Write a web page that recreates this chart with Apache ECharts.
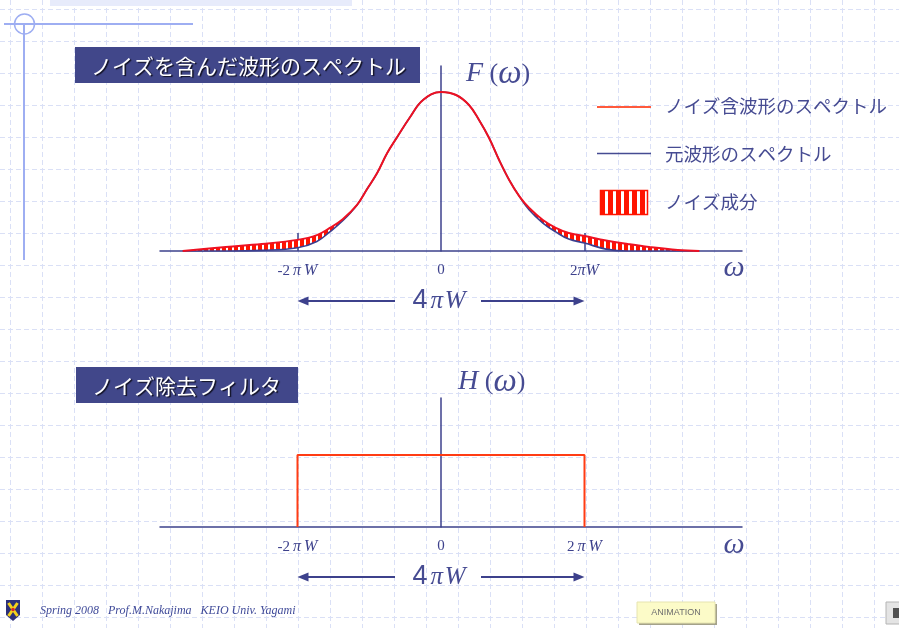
<!DOCTYPE html>
<html>
<head>
<meta charset="utf-8">
<script src="https://cdn.jsdelivr.net/npm/echarts@6/dist/echarts.min.js"></script>
<style>
html, body { margin: 0; padding: 0; background: #ffffff; }
#c { width: 899px; height: 628px; }
</style>
</head>
<body>
<div id="c"></div>
<script>
// Angular frequency samples, in units of πW
const omega = [-3.6, -3.0, -2.5, -2.0, -1.73, -1.55, -1.37, -1.17, -1.03, -0.89, -0.75, -0.61, -0.43, -0.25, 0,
  0.21, 0.39, 0.53, 0.67, 0.81, 0.95, 1.09, 1.23, 1.42, 1.6, 1.78, 2.0, 2.3, 2.6, 2.9, 3.3, 3.6];
// Spectrum of the noisy waveform (normalised to the peak)
const noisySpectrum = [0, 0.025, 0.044, 0.07, 0.10, 0.145, 0.2, 0.29, 0.39, 0.49, 0.616, 0.717, 0.843, 0.95, 1.0,
  0.981, 0.918, 0.824, 0.711, 0.572, 0.447, 0.345, 0.27, 0.195, 0.145, 0.113, 0.094, 0.066, 0.044, 0.025, 0.006, 0];
// Spectrum of the original waveform
const originalSpectrum = [0, 0, 0.004, 0.02, 0.06, 0.12, 0.19, 0.29, 0.39, 0.49, 0.616, 0.717, 0.843, 0.95, 1.0,
  0.981, 0.918, 0.824, 0.711, 0.572, 0.447, 0.345, 0.258, 0.176, 0.12, 0.075, 0.05, 0.012, 0, 0, 0, 0];
// Ideal low-pass filter H(ω), pass band -2πW .. 2πW
const filterOmega = [-2, -2, 2, 2];
const filterGain = [0, 1, 1, 0];
// Axis tick positions and labels
const tickValues = [-2, 0, 2];
const spectrumTickLabels = ['-2 π W', '0', '2πW'];
const filterTickLabels = ['-2 π W', '0', '2 π W'];
const bandLabel = ['4', 'π', 'W'];
const legendNames = ['ノイズ含波形のスペクトル', '元波形のスペクトル', 'ノイズ成分'];
const titles = ['ノイズを含んだ波形のスペクトル', 'ノイズ除去フィルタ'];
const footerText = 'Spring 2008   Prof.M.Nakajima   KEIO Univ. Yagami';

const NAVY = '#3d418c';
const TEXT_NAVY = '#464b92';
const RED = '#ee1122';
const SERIF = '"Liberation Serif", "DejaVu Serif", serif';
const JP = '"Noto Sans CJK JP", "Noto Sans", sans-serif';
const SMOOTH = 0.4;

// horizontal scale: 1 unit (πW) = 71.75 px, axis runs from x=160 to x=742 with 0 at x=441
const X_MIN = (160 - 441) / 71.75;
const X_MAX = (742 - 441) / 71.75;

function stripeCanvas(w, h, redW) {
  const c = document.createElement('canvas');
  c.width = w; c.height = h;
  const g = c.getContext('2d');
  g.fillStyle = '#ff1400';
  g.fillRect(0, 0, w, h);
  g.fillStyle = '#ffffff';
  g.fillRect(redW, 0, w - redW, h);
  return c;
}
const areaStripes = stripeCanvas(6, 8, 4);
const legendStripes = stripeCanvas(8, 8, 5);

function richTick(s) {
  let out = '';
  for (const ch of s) {
    if (ch === 'π' || ch === 'W') out += '{i|' + ch + '}';
    else if (ch === ' ') out += '{s| }';
    else out += '{n|' + ch + '}';
  }
  return out;
}
const tickRich = {
  n: { fontFamily: SERIF, fontSize: 15, color: NAVY },
  i: { fontFamily: SERIF, fontSize: 16, color: NAVY, fontStyle: 'italic' },
  s: { fontFamily: SERIF, fontSize: 12, color: NAVY }
};

// [value, omega] ordering so that stacking accumulates the spectrum value
function stackPairs(xs, ys) { return xs.map((x, i) => [ys[i], x]); }
function pairs(xs, ys) { return xs.map((x, i) => [x, ys[i]]); }
const noiseExcess = noisySpectrum.map((v, i) => Math.max(0, +(v - originalSpectrum[i]).toFixed(4)));

function xAxisFor(grid, labels, showTicks) {
  return {
    type: 'value', gridIndex: grid, min: X_MIN, max: X_MAX,
    axisLine: { show: true, onZero: true, lineStyle: { color: NAVY, width: 1.5 } },
    splitLine: { show: false },
    axisTick: { show: showTicks, inside: true, length: 18, customValues: [-2, 2], lineStyle: { color: NAVY, width: 1.5 } },
    axisLabel: {
      customValues: tickValues, margin: 12,
      formatter: v => { const k = tickValues.indexOf(Math.round(v * 1000) / 1000); return k < 0 ? '' : richTick(labels[k]); },
      rich: tickRich
    }
  };
}
function yAxisFor(grid, max) {
  return {
    type: 'value', gridIndex: grid, min: 0, max: max,
    axisLine: { show: true, onZero: true, lineStyle: { color: NAVY, width: 1.5 } },
    axisTick: { show: false }, axisLabel: { show: false }, splitLine: { show: false }
  };
}

const chart = echarts.init(document.getElementById('c'), null, { renderer: 'canvas' });
chart.setOption({
  animation: false,
  backgroundColor: '#ffffff',
  grid: [
    { left: 160, top: 66, width: 582, height: 185 },
    { left: 160, top: 398, width: 582, height: 129 }
  ],
  xAxis: [xAxisFor(0, spectrumTickLabels, true), xAxisFor(1, filterTickLabels, false)],
  yAxis: [yAxisFor(0, 185 / 159), yAxisFor(1, 129 / 72)],
  series: [
    {
      name: 'base', type: 'line', xAxisIndex: 0, yAxisIndex: 0, stack: 'noise',
      data: stackPairs(omega, originalSpectrum), encode: { x: 1, y: 0 },
      smooth: SMOOTH, symbol: 'none', lineStyle: { width: 0, opacity: 0 }, z: 1, silent: true
    },
    {
      name: legendNames[2], type: 'line', xAxisIndex: 0, yAxisIndex: 0, stack: 'noise',
      data: stackPairs(omega, noiseExcess), encode: { x: 1, y: 0 },
      smooth: SMOOTH, symbol: 'none', lineStyle: { width: 0, opacity: 0 },
      areaStyle: { color: { image: areaStripes, repeat: 'repeat' }, opacity: 1 }, z: 2
    },
    {
      name: legendNames[1], type: 'line', xAxisIndex: 0, yAxisIndex: 0,
      data: pairs(omega, originalSpectrum), smooth: SMOOTH, symbol: 'none',
      lineStyle: { color: '#3b3f8f', width: 1.6 }, z: 3
    },
    {
      name: legendNames[0], type: 'line', xAxisIndex: 0, yAxisIndex: 0,
      data: pairs(omega, noisySpectrum), smooth: SMOOTH, symbol: 'none',
      lineStyle: { color: RED, width: 2 }, z: 4
    },
    {
      name: 'H', type: 'line', xAxisIndex: 1, yAxisIndex: 1,
      data: pairs(filterOmega, filterGain), symbol: 'none',
      lineStyle: { color: '#ff3c14', width: 2 }, z: 4
    }
  ]
});

// ---------- decorations and annotations ----------
const g = [];
// dashed background grid
for (let x = 10; x < 899; x += 32) {
  g.push({ type: 'line', z: -10, silent: true, shape: { x1: x + 0.5, y1: 0, x2: x + 0.5, y2: 628 },
    style: { stroke: '#dae0f6', lineWidth: 1, lineDash: [5, 3] } });
}
for (let y = 9; y < 628; y += 32) {
  g.push({ type: 'line', z: -10, silent: true, shape: { x1: 0, y1: y + 0.5, x2: 899, y2: y + 0.5 },
    style: { stroke: '#dae0f6', lineWidth: 1, lineDash: [5, 3] } });
}
// header band and crosshair ornament
g.push({ type: 'rect', z: -5, shape: { x: 50, y: 0, width: 302, height: 6 }, style: { fill: '#e7ebfb' } });
g.push({ type: 'line', z: -4, shape: { x1: 4, y1: 24, x2: 193, y2: 24 }, style: { stroke: '#9eaef2', lineWidth: 2 } });
g.push({ type: 'line', z: -4, shape: { x1: 24, y1: 24, x2: 24, y2: 260 }, style: { stroke: '#9eaef2', lineWidth: 2 } });
g.push({ type: 'circle', z: -4, shape: { cx: 24.5, cy: 24, r: 10 }, style: { fill: 'none', stroke: '#9eaef2', lineWidth: 1.5 } });

// title boxes
function titleBox(x, y, w, h, text) {
  g.push({ type: 'rect', z: 5, shape: { x: x, y: y, width: w, height: h }, style: { fill: '#41478a' } });
  g.push({ type: 'text', z: 6, x: x + 16, y: y + h / 2 + 1,
    style: { text: text, fontSize: 21, fontFamily: JP, fill: '#ffffff', verticalAlign: 'middle',
      textShadowColor: '#111122', textShadowOffsetX: 1.5, textShadowOffsetY: 1.5, textShadowBlur: 1 } });
}
titleBox(75, 47, 345, 36, titles[0]);
titleBox(76, 367, 222, 36, titles[1]);

// function names and ω labels
const fnRich = {
  i: { fontFamily: SERIF, fontStyle: 'italic', fontSize: 28, fill: TEXT_NAVY },
  u: { fontFamily: SERIF, fontSize: 26, fill: TEXT_NAVY },
  w: { fontFamily: SERIF, fontStyle: 'italic', fontSize: 33, fill: TEXT_NAVY }
};
g.push({ type: 'text', z: 6, x: 466, y: 74, style: { text: '{i|F}{u| (}{w|ω}{u|)}', rich: fnRich, verticalAlign: 'middle' } });
g.push({ type: 'text', z: 6, x: 458, y: 382, style: { text: '{i|H}{u| (}{w|ω}{u|)}', rich: fnRich, verticalAlign: 'middle' } });
g.push({ type: 'text', z: 6, x: 734, y: 268, style: { text: 'ω', fontSize: 30, fontStyle: 'italic', fontFamily: SERIF, fill: TEXT_NAVY, align: 'center', verticalAlign: 'middle' } });
g.push({ type: 'text', z: 6, x: 734, y: 545, style: { text: 'ω', fontSize: 30, fontStyle: 'italic', fontFamily: SERIF, fill: TEXT_NAVY, align: 'center', verticalAlign: 'middle' } });

// band-width arrows below each axis
function bandArrow(grid, dy) {
  const L = chart.convertToPixel({ gridIndex: grid }, [-2, 0]);
  const C = chart.convertToPixel({ gridIndex: grid }, [0, 0]);
  const R = chart.convertToPixel({ gridIndex: grid }, [2, 0]);
  const y = C[1] + dy;
  const st = { stroke: NAVY, lineWidth: 2 };
  g.push({ type: 'line', z: 6, shape: { x1: C[0] - 46, y1: y, x2: L[0] + 8, y2: y }, style: st });
  g.push({ type: 'line', z: 6, shape: { x1: C[0] + 40, y1: y, x2: R[0] - 8, y2: y }, style: st });
  g.push({ type: 'polygon', z: 6, shape: { points: [[L[0], y], [L[0] + 11, y - 4.5], [L[0] + 11, y + 4.5]] }, style: { fill: NAVY } });
  g.push({ type: 'polygon', z: 6, shape: { points: [[R[0], y], [R[0] - 11, y - 4.5], [R[0] - 11, y + 4.5]] }, style: { fill: NAVY } });
  g.push({ type: 'text', z: 6, x: C[0] - 2, y: y,
    style: { text: '{n|' + bandLabel[0] + '}{s| }{i|' + bandLabel[1] + '}{t| }{i|' + bandLabel[2] + '}',
      rich: {
        n: { fontFamily: '"Liberation Sans", Arial, sans-serif', fontSize: 27, fill: TEXT_NAVY },
        s: { fontSize: 11 },
        t: { fontSize: 6 },
        i: { fontFamily: SERIF, fontStyle: 'italic', fontSize: 25, fill: TEXT_NAVY }
      }, align: 'center', verticalAlign: 'middle' } });
}
bandArrow(0, 50);
bandArrow(1, 50);

// legend
g.push({ type: 'line', z: 6, shape: { x1: 597, y1: 107, x2: 651, y2: 107 }, style: { stroke: '#ff5a3c', lineWidth: 2 } });
g.push({ type: 'line', z: 6, shape: { x1: 597, y1: 153.5, x2: 651, y2: 153.5 }, style: { stroke: TEXT_NAVY, lineWidth: 1.5 } });
g.push({ type: 'rect', z: 6, shape: { x: 600.5, y: 190.5, width: 47, height: 24 },
  style: { fill: { image: legendStripes, repeat: 'repeat' }, stroke: '#ff1400', lineWidth: 1.5 } });
[106, 154, 202].forEach((y, k) => {
  g.push({ type: 'text', z: 6, x: 665, y: y, style: { text: legendNames[k], fontSize: 18.5, fontFamily: JP, fill: TEXT_NAVY, verticalAlign: 'middle' } });
});

// footer: emblem, credit line, buttons
g.push({ type: 'polygon', z: 6, shape: { points: [[6, 600], [20, 600], [20, 615], [13, 621], [6, 615]] }, style: { fill: '#2c3079' } });
g.push({ type: 'line', z: 7, shape: { x1: 8.5, y1: 603, x2: 17.5, y2: 616 }, style: { stroke: '#f4d21c', lineWidth: 3 } });
g.push({ type: 'line', z: 7, shape: { x1: 17.5, y1: 603, x2: 8.5, y2: 616 }, style: { stroke: '#f4d21c', lineWidth: 3 } });
g.push({ type: 'circle', z: 8, shape: { cx: 13, cy: 609.5, r: 1.8 }, style: { fill: '#d8262a' } });
g.push({ type: 'text', z: 6, x: 40, y: 611, style: { text: footerText, fontSize: 12, fontStyle: 'italic', fontFamily: SERIF, fill: '#3f4a99', verticalAlign: 'middle' } });

g.push({ type: 'rect', z: 6, shape: { x: 639, y: 604, width: 78, height: 21 }, style: { fill: '#a4a28a' } });
g.push({ type: 'rect', z: 7, shape: { x: 637, y: 602, width: 78, height: 21 }, style: { fill: '#fcfbc8', stroke: '#e6e4b0', lineWidth: 1 } });
g.push({ type: 'text', z: 8, x: 676, y: 613, style: { text: 'ANIMATION', fontSize: 9, fontFamily: '"Liberation Sans", Arial, sans-serif', fill: '#6e6e6e', align: 'center', verticalAlign: 'middle' } });
g.push({ type: 'rect', z: 6, shape: { x: 886, y: 602, width: 14, height: 22 }, style: { fill: '#e4e4e4', stroke: '#b4b4b4', lineWidth: 1 } });
g.push({ type: 'rect', z: 7, shape: { x: 893, y: 608, width: 6, height: 10 }, style: { fill: '#505050' } });

chart.setOption({ graphic: g });
</script>
</body>
</html>
